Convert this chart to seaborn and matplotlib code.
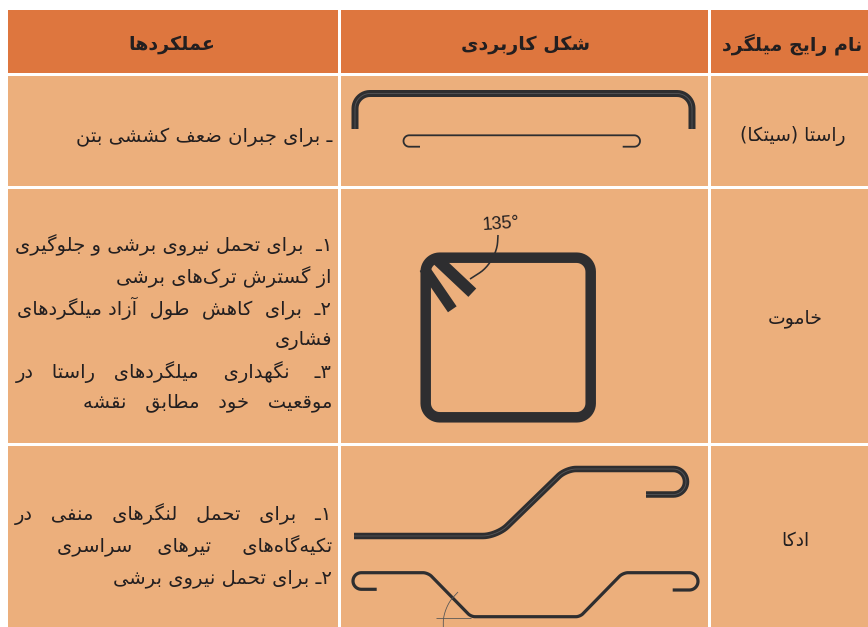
import numpy as np
import matplotlib
matplotlib.use("Agg")
import matplotlib.pyplot as plt
from matplotlib.patches import Rectangle
import seaborn as sns

# ---------- content ----------
headers = ["عملکردها", "شکل کاربردی", "نام رایج میلگرد"]
bar_names = ["راستا (سیتکا)", "خاموت", "ادکا"]
row1_lines = ["ـ برای جبران ضعف کششی بتن"]
row2_lines = ["۱ـ برای تحمل نیروی برشی و جلوگیری", "از گسترش ترک\u200cهای برشی",
              "۲ـ برای کاهش طول آزاد میلگردهای", "فشاری",
              "۳ـ نگهداری میلگردهای راستا در", "موقعیت خود مطابق نقشه"]
row3_lines = ["۱ـ برای تحمل لنگرهای منفی در", "تکیه\u200cگاه\u200cهای تیرهای سراسری",
              "۲ـ برای تحمل نیروی برشی"]
angle_label = "135°"

# ---------- layout (pixel space of the figure) ----------
col_edges = [(8, 338), (341, 708), (711, 868)]
row_edges = [(10, 73), (76, 186), (189, 443), (446, 627)]
header_x = [172, 526, 792]
name_x = [793, 795, 795]
name_y = [136, 318, 541]
row1_y = [137]
row2_y = [245, 277, 308, 340, 372, 402]
row3_y = [514, 546, 578]
text_right = 332
row1_left = [None]
row2_left = [15, None, 15, None, 15, 83]
row3_left = [15, 57, None]

long_bar = [(355, 129), (355, 93.5), (692, 93.5), (692, 129)]
long_bar_r = [15, 15]
thin_bar = [(420, 146.7), (403.5, 146.7), (403.5, 135.3), (640, 135.3), (640, 146.7), (622.7, 146.7)]
thin_bar_r = [5.7, 5.7, 5.7, 5.7]
stirrup = [(447, 257.7), (590.7, 257.7), (590.7, 417.3), (425.7, 417.3), (425.7, 257.7), (447, 257.7)]
stirrup_r = [14, 14, 14, 14]
tail_a = [(436, 258.5), (472.3, 292.7)]
tail_b = [(424, 268), (452.3, 309.3)]
leader = [(498, 235), (496.5, 262), (470, 279)]
leader_r = [20]
bent_top = [(354, 536), (497, 536), (566, 469), (686, 469), (686, 494.5), (646, 494.5)]
bent_top_r = [14, 10, 12.7, 12.7]
bent_low = [(376.7, 589.3), (353, 589.3), (353, 572.7), (428, 572.7), (471, 616.7), (580, 616.7),
            (623, 572.7), (698, 572.7), (698, 590), (672.7, 590)]
bent_low_r = [8.3, 8.3, 5, 4, 4, 5, 8.6, 8.6]
angle_base = [(436, 618.3), (471, 618.3)]
angle_arc = [(458, 592), (443.3, 608), (443.3, 627)]
angle_arc_r = [14]

header_color = "#DE763E"
body_color = "#ECAF7C"
text_color = "#231F20"
steel = "#2E2E30"
steel_light = "#58585A"

# ---------- Persian shaping: presentation forms (isolated, final, initial, medial) ----------
def four(base):
    return tuple(chr(base + i) for i in range(4))
def two(base):
    return (chr(base), chr(base + 1), None, None)
forms = {"ا": two(0xFE8D), "آ": two(0xFE81), "ب": four(0xFE8F), "پ": four(0xFB56), "ت": four(0xFE95),
         "ث": four(0xFE99), "ج": four(0xFE9D), "چ": four(0xFB7A), "ح": four(0xFEA1), "خ": four(0xFEA5),
         "د": two(0xFEA9), "ذ": two(0xFEAB), "ر": two(0xFEAD), "ز": two(0xFEAF), "ژ": two(0xFB8A),
         "س": four(0xFEB1), "ش": four(0xFEB5), "ص": four(0xFEB9), "ض": four(0xFEBD), "ط": four(0xFEC1),
         "ظ": four(0xFEC5), "ع": four(0xFEC9), "غ": four(0xFECD), "ف": four(0xFED1), "ق": four(0xFED5),
         "ک": four(0xFB8E), "گ": four(0xFB92), "ل": four(0xFEDD), "م": four(0xFEE1), "ن": four(0xFEE5),
         "و": two(0xFEED), "ه": four(0xFEE9), "ی": (chr(0xFBFC), chr(0xFBFD), chr(0xFBFE), chr(0xFBFF))}
mirror = {"(": ")", ")": "("}

def shape(text):
    out = []
    for i, ch in enumerate(text):
        if ch == "\u200c":
            continue
        if ch not in forms:
            out.append(mirror.get(ch, ch))
            continue
        prev_ch = text[i - 1] if i else ""
        next_ch = text[i + 1] if i + 1 < len(text) else ""
        joins_prev = prev_ch in forms and forms[prev_ch][2] is not None
        joins_next = next_ch in forms and forms[ch][2] is not None
        iso, fin, ini, med = forms[ch]
        if joins_prev and joins_next:
            out.append(med)
        elif joins_prev:
            out.append(fin)
        elif joins_next:
            out.append(ini)
        else:
            out.append(iso)
    return "".join(reversed(out))

def rounded(points, radii):
    pts = [np.array(p, float) for p in points]
    xs, ys = [pts[0][0]], [pts[0][1]]
    for k in range(1, len(pts) - 1):
        p, a, b = pts[k], pts[k - 1], pts[k + 1]
        r = radii[k - 1]
        s = p + (a - p) / np.linalg.norm(a - p) * r
        e = p + (b - p) / np.linalg.norm(b - p) * r
        c1 = s + (p - s) * 0.55
        c2 = e + (p - e) * 0.55
        for t in np.linspace(0, 1, 12):
            q = (1 - t) ** 3 * s + 3 * t * (1 - t) ** 2 * c1 + 3 * t ** 2 * (1 - t) * c2 + t ** 3 * e
            xs.append(q[0])
            ys.append(q[1])
    xs.append(pts[-1][0])
    ys.append(pts[-1][1])
    return np.array(xs), np.array(ys)

# ---------- figure ----------
sns.set_theme(style="white")
plt.rcParams["font.family"] = ["DejaVu Sans"]
fig = plt.figure(figsize=(8.68, 6.27), dpi=100, facecolor="white")
ax = fig.add_axes([0, 0, 1, 1])

PX = 0.72
def bar(points, radii, width, color=steel, highlight=False):
    x, y = rounded(points, radii)
    sns.lineplot(x=x, y=y, sort=False, estimator=None, color=color, linewidth=width * PX, ax=ax,
                 legend=False, solid_capstyle="butt", solid_joinstyle="round")
    if highlight:
        sns.lineplot(x=x, y=y, sort=False, estimator=None, color=steel_light, linewidth=0.8 * PX, ax=ax,
                     legend=False, solid_capstyle="butt")

for r, (y0, y1) in enumerate(row_edges):
    for (x0, x1) in col_edges:
        ax.add_patch(Rectangle((x0, y0), x1 - x0, y1 - y0, color=header_color if r == 0 else body_color, lw=0))

bar(long_bar, long_bar_r, 7, highlight=True)
bar(thin_bar, thin_bar_r, 1.8)
bar(stirrup, stirrup_r, 10.5)
bar(tail_a, [], 11.5)
bar(tail_b, [], 10.5)
bar(leader, leader_r, 1.6)
bar(bent_top, bent_top_r, 6.5, highlight=True)
bar(bent_low, bent_low_r, 3.2)
bar(angle_base, [], 0.8, color="#555555")
bar(angle_arc, angle_arc_r, 0.8, color="#555555")

ax.set_xlim(0, 868)
ax.set_ylim(627, 0)
ax.set(xlabel="", ylabel="", xticks=[], yticks=[])
ax.axis("off")

ax.text(501, 224, angle_label, family="Liberation Sans", fontsize=13, color=text_color,
        ha="center", va="center", rotation=4)

for x, label in zip(header_x, headers):
    ax.text(x, 45, shape(label), fontsize=13.7, fontweight="bold", color=text_color, ha="center", va="center")
for x, y, label in zip(name_x, name_y, bar_names):
    ax.text(x, y, shape(label), fontsize=13.5, color=text_color, ha="center", va="center")

renderer = fig.canvas.get_renderer()
def draw_line(line, y, left):
    words = line.split(" ")
    gaps = [1] * (len(words) - 1)
    def build():
        s = words[0]
        for g, w in zip(gaps, words[1:]):
            s += " " * g + w
        return shape(s)
    t = ax.text(text_right, y, build(), fontsize=14, color=text_color, ha="right", va="center")
    if left is not None:
        target = text_right - left
        i = 0
        while gaps and t.get_window_extent(renderer).width < target - 5:
            gaps[i % len(gaps)] += 1
            i += 1
            t.set_text(build())
        w = t.get_window_extent(renderer).width
        t.set_x(text_right - max(target - w, 0) / 2)

for lines, ys, lefts in [(row1_lines, row1_y, row1_left), (row2_lines, row2_y, row2_left), (row3_lines, row3_y, row3_left)]:
    for line, y, left in zip(lines, ys, lefts):
        draw_line(line, y, left)

fig.savefig("out.png", dpi=100)
